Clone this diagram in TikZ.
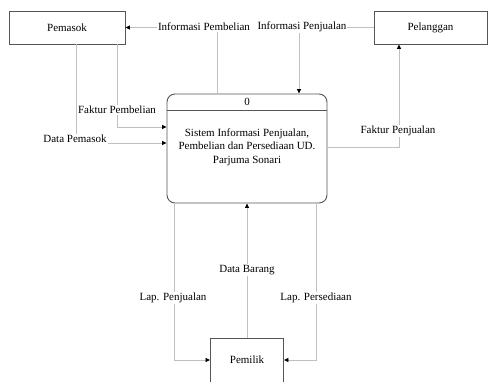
\documentclass[tikz,border=0pt]{standalone}
\usepackage{fontspec}
\setmainfont{Liberation Serif}
\usetikzlibrary{arrows.meta,calc}
\definecolor{linegray}{RGB}{192,192,192}
\definecolor{boxgray}{RGB}{85,85,85}

\begin{document}
\begin{tikzpicture}[x=1pt, y=-1pt,
    entity/.style  = {rectangle, draw=boxgray, fill=white, line width=0.9pt,
                      minimum height=33pt, font=\fontsize{11}{13.5}\selectfont},
    procbox/.style = {rectangle, draw=boxgray, fill=white, line width=0.9pt,
                      rounded corners=8pt, minimum width=160pt, minimum height=109pt},
    ptext/.style   = {align=center, font=\fontsize{11}{13.5}\selectfont},
    flow/.style    = {-{Triangle[length=4.5pt,width=4pt,color=black]}, draw=linegray, line width=0.8pt},
    lbl/.style     = {fill=white, inner sep=1pt, font=\fontsize{11}{13.5}\selectfont}
  ]
    \useasboundingbox (0,0) rectangle (488,381);

    % entities and process
    \node[entity, minimum width=116pt] (pemasok)   at (67,27.5)   {Pemasok};
    \node[entity, minimum width=113pt] (pelanggan) at (430.5,27.5) {Pelanggan};
    \node[entity, minimum width=73pt, minimum height=44pt] (pemilik) at (247,360) {Pemilik};

    \node[procbox] (proc) at (247,148.5) {};
    \draw[boxgray, line width=0.9pt] (proc.west |- 0,110) -- (proc.east |- 0,110);
    \node[ptext] (procid)   at (247,102) {0};
    \node[ptext] (proctext) at (247,147) {Sistem Informasi Penjualan,\\Pembelian dan Persediaan UD.\\Parjuma Sonari};

    % data flows
    \draw[flow] ([xshift=-30pt]proc.north) |- (pemasok.east);
    \draw[flow] (pelanggan.west) -| ([xshift=52pt]proc.north);
    \draw[flow] ([xshift=50pt]pemasok.south) |- ([yshift=21.5pt]proc.west);
    \draw[flow] ([xshift=9pt]pemasok.south) |- ([yshift=5.5pt]proc.west);
    \draw[flow] ([yshift=1.5pt]proc.east) -| ([xshift=-31.5pt]pelanggan.south);
    \draw[flow] ([xshift=-73pt]proc.south) |- (pemilik.west);
    \draw[flow] (pemilik.north) -- (proc.south);
    \draw[flow] ([xshift=69pt]proc.south) |- (pemilik.east);

    % flow labels
    \node[lbl] (lpembelian) at (204,27)  {Informasi Pembelian};
    \node[lbl] (lpenjualan) at (302,27)  {Informasi Penjualan};
    \node[lbl] (lfbeli)     at (117,110) {Faktur Pembelian};
    \node[lbl] (ldpemasok)  at (75,139)  {Data Pemasok};
    \node[lbl] (lfjual)     at (398,131) {Faktur Penjualan};
    \node[lbl] (llapjual)   at (173,298) {Lap. Penjualan};
    \node[lbl] (lbarang)    at (247,270) {Data Barang};
    \node[lbl] (llapsedia)  at (316,298) {Lap. Persediaan};
\end{tikzpicture}
\end{document}
